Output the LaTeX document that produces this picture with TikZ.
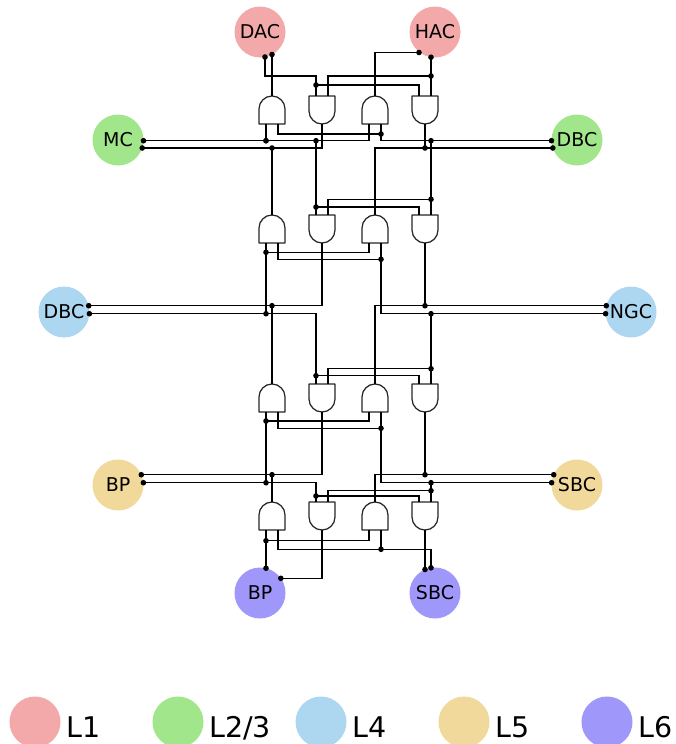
\documentclass[tikz,border=0pt]{standalone}
\usepackage{fontspec}
\setmainfont{DejaVu Sans}
\definecolor{cLa}{RGB}{243,169,169}
\definecolor{cLb}{RGB}{162,230,140}
\definecolor{cLc}{RGB}{173,214,240}
\definecolor{cLd}{RGB}{241,216,155}
\definecolor{cLe}{RGB}{160,151,250}
\begin{document}
\begin{tikzpicture}[x=1pt,y=-1pt,
  circ/.style={circle, minimum size=51pt, inner sep=0pt, outer sep=0pt, draw=none, font=\fontsize{19}{19}\selectfont},
  gate/.style={draw=black!85, line width=1.25pt, fill=white, line join=round},
  wire/.style={draw=black, line width=1.1pt},
  legtxt/.style={anchor=base west, inner sep=0pt, font=\fontsize{28.5}{28.5}\selectfont}]
\useasboundingbox (0,0) rectangle (676,744);

% ---- circles
\node[circ, fill=cLa] (DAC) at (260,32) {DAC};
\node[circ, fill=cLa] (HAC) at (435,32) {HAC};
\node[circ, fill=cLb] (MC) at (118,140) {MC};
\node[circ, fill=cLb] (DBCg) at (577,140) {DBC};
\node[circ, fill=cLc] (DBCb) at (64,312) {DBC};
\node[circ, fill=cLc] (NGC) at (631,312) {NGC};
\node[circ, fill=cLd] (BPy) at (118,485) {BP};
\node[circ, fill=cLd] (SBCy) at (577,485) {SBC};
\node[circ, fill=cLe] (BPp) at (260,593) {BP};
\node[circ, fill=cLe] (SBCp) at (435,593) {SBC};

% ---- legend
\foreach \i/\col/\lab in {0/cLa/L1,1/cLb/L2\slash 3,2/cLc/L4,3/cLd/L5,4/cLe/L6}{
  \node[circ, fill=\col] (leg\i) at (35+143*\i,722) {};
  \node[legtxt] (legt\i) at (66+143*\i,737) {\lab};
}

% ---- gates
\foreach \r/\T in {1/96,2/215,3/384,4/502}{
  \foreach \c/\cx in {1/272,3/375}{
    \draw[gate] (\cx-13,\T+28) -- (\cx-13,\T+13)
      .. controls (\cx-13,\T+5.82) and (\cx-7.18,\T) .. (\cx,\T)
      .. controls (\cx+7.18,\T) and (\cx+13,\T+5.82) .. (\cx+13,\T+13)
      -- (\cx+13,\T+28) -- cycle;
    \coordinate (g\r\c a) at (\cx-6,\T+28);
    \coordinate (g\r\c b) at (\cx+6,\T+28);
    \coordinate (g\r\c o) at (\cx,\T);
  }
  \foreach \c/\cx in {2/322,4/425}{
    \draw[gate] (\cx-13,\T) -- (\cx+13,\T) -- (\cx+13,\T+15)
      .. controls (\cx+13,\T+22.18) and (\cx+7.18,\T+28) .. (\cx,\T+28)
      .. controls (\cx-7.18,\T+28) and (\cx-13,\T+22.18) .. (\cx-13,\T+15)
      -- cycle;
    \coordinate (g\r\c a) at (\cx-6,\T);
    \coordinate (g\r\c b) at (\cx+6,\T);
    \coordinate (g\r\c o) at (\cx,\T+28);
  }
}

% ---- top of row 1
\coordinate (dA) at (265,57);
\coordinate (dB) at (272,54.5);
\coordinate (hA) at (419,52.5);
\coordinate (hB) at (431,57.2);
\coordinate (ta) at (265,76);
\coordinate (tb) at (316,76);
\coordinate (ka0) at (316,85);
\coordinate (kb0) at (431,76);
\draw[wire] (dA) -- (ta) -- (tb) -- (g12a);
\draw[wire] (ka0) -| (g14a);
\draw[wire] (dB) -- (g11o);
\draw[wire] (hA) -| (g13o);
\draw[wire] (hB) -- (g14b);
\draw[wire] (kb0) -| (g12b);
\foreach \p in {dA,dB,hA,hB,ka0,kb0} \fill (\p) circle (2.8);

% ---- buses between rows
\foreach \k/\yA/\yO/\ja/\jb/\ka/\kb/\xA/\xO/\xB/\xQ in {
   1/140.7/148/140.7/134/207/199.3/143.5/142.2/551.5/552.8,
   2/313.7/305.7/252.3/259.3/375.7/368.7/89.4/88.7/605.6/606.3,
   3/482.7/474.7/421/428.3/496/490.7/143.4/141.3/551.6/553.7}{
  \pgfmathtruncatemacro{\n}{\k+1}
  \coordinate (pA\k) at (\xA,\yA);
  \coordinate (pO\k) at (\xO,\yO);
  \coordinate (pB\k) at (\xB,\yA);
  \coordinate (pQ\k) at (\xQ,\yO);
  \coordinate (JA\k) at (266,\ja);
  \coordinate (JB\k) at (381,\jb);
  \coordinate (A\k) at (266,\yA);
  \coordinate (AT\k) at (316,\yA);
  \coordinate (O\k) at (272,\yO);
  \coordinate (B\k) at (431,\yA);
  \coordinate (Q\k) at (425,\yO);
  \coordinate (KA\k) at (316,\ka);
  \coordinate (KB\k) at (431,\kb);
  \draw[wire] (g\k1a) -- (JA\k) -- (A\k);
  \draw[wire] (g\k3a) |- (JA\k);
  \draw[wire] (pA\k) -- (AT\k) -- (g\n2a);
  \draw[wire] (KA\k) -| (g\n4a);
  \draw[wire] (g\k2o) |- (pO\k);
  \draw[wire] (O\k) -- (g\n1o);
  \draw[wire] (g\k1b) |- (JB\k);
  \draw[wire] (g\k3b) |- (pB\k);
  \draw[wire] (B\k) -- (g\n4b);
  \draw[wire] (KB\k) -| (g\n2b);
  \draw[wire] (g\k4o) -- (Q\k);
  \draw[wire] (pQ\k) -| (g\n3o);
  \foreach \p in {pA\k,pO\k,pB\k,pQ\k,JA\k,JB\k,A\k,O\k,B\k,Q\k,KA\k,KB\k} \fill (\p) circle (2.8);
}
\fill (AT1) circle (2.8);

% ---- bottom of row 4
\coordinate (JA4) at (266,540.7);
\coordinate (JB4) at (381,549.3);
\coordinate (JC4) at (431,549.3);
\coordinate (bpA) at (266,568.2);
\coordinate (bpO) at (280.8,578.3);
\coordinate (sbO) at (425,569.5);
\coordinate (sbB) at (431,567.8);
\draw[wire] (g41a) -- (JA4) -- (bpA);
\draw[wire] (g43a) |- (JA4);
\draw[wire] (g41b) |- (JB4) -- (JC4) -- (sbB);
\draw[wire] (g43b) -- (JB4);
\draw[wire] (g42o) |- (bpO);
\draw[wire] (g44o) -- (sbO);
\foreach \p in {JA4,JB4,bpA,bpO,sbO,sbB} \fill (\p) circle (2.8);
\end{tikzpicture}
\end{document}
